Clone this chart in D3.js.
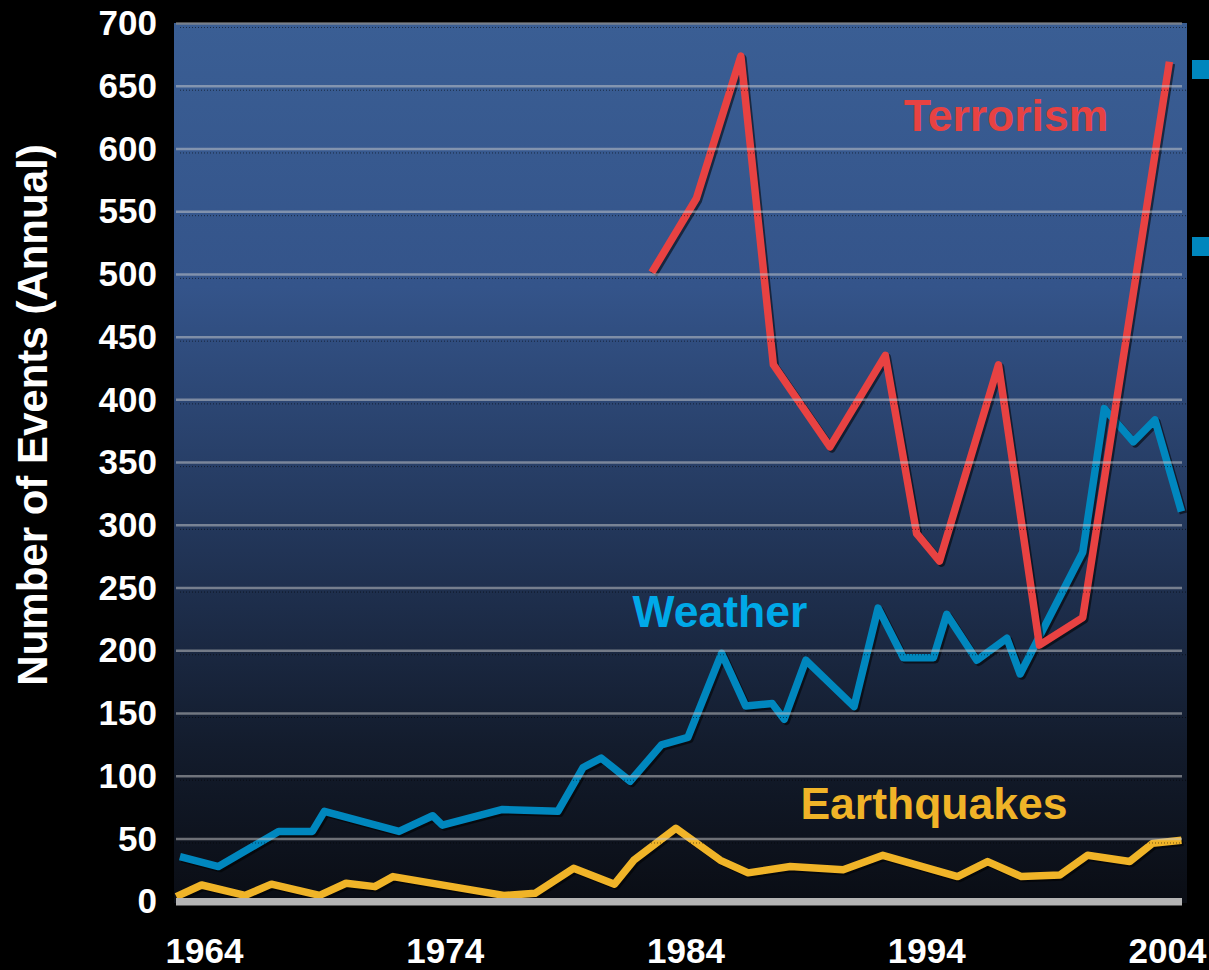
<!DOCTYPE html>
<html>
<head>
<meta charset="utf-8">
<script src="https://cdn.jsdelivr.net/npm/d3@7"></script>
<style>
  html, body { margin: 0; padding: 0; background: #000; }
  svg { display: block; }
  text { font-family: "Liberation Sans", Arial, sans-serif; font-weight: bold; }
</style>
</head>
<body>
<div id="chart"></div>
<script>
// Annual event counts, positioned by (fractional) year
const weatherYears  = [1963.0, 1964.6, 1967.1, 1968.5, 1969.0, 1972.1, 1973.5, 1973.9, 1976.4, 1978.7,
                       1979.75, 1980.5, 1981.7, 1983.0, 1984.1, 1985.5, 1986.5, 1987.6, 1988.1, 1989.0,
                       1991.0, 1992.0, 1993.05, 1994.3, 1994.85, 1996.1, 1997.35, 1997.9, 2000.5, 2001.4,
                       2002.6, 2003.5, 2004.6];
const weatherValues = [36, 28, 56, 56, 72, 56, 68.5, 61, 73.5, 72,
                       107, 114.5, 96, 125, 131, 198, 156, 158, 145.5, 192.5,
                       155.5, 234, 194.5, 194.5, 229, 192.5, 210, 181.5, 278.5, 393,
                       366.5, 384, 311];

const terrorYears   = [1982.6, 1984.45, 1986.3, 1987.65, 1990.0, 1992.3, 1993.6, 1994.55, 1997.0, 1998.7, 2000.5, 2004.1];
const terrorValues  = [501.5, 560.5, 674, 428, 362.5, 435.5, 293.5, 271.5, 428, 204.5, 226.5, 669.5];

const quakeYears    = [1962.85, 1963.9, 1965.7, 1966.8, 1968.8, 1969.9, 1971.1, 1971.85, 1976.45, 1977.75,
                       1979.35, 1981.05, 1981.85, 1983.6, 1985.45, 1986.6, 1988.35, 1990.55, 1992.2, 1995.3,
                       1996.55, 1997.95, 1999.55, 2000.7, 2002.45, 2003.4, 2004.6];
const quakeValues   = [4, 13.3, 5, 14, 5, 14.7, 12, 20, 5, 6.7,
                       26.6, 14, 33, 58.5, 33, 23, 28, 25.5, 37, 20,
                       32, 20, 21.3, 37, 32, 46.5, 49];

const yTicks = [0, 50, 100, 150, 200, 250, 300, 350, 400, 450, 500, 550, 600, 650, 700];
const xTicks = [1964, 1974, 1984, 1994, 2004];

const W = 1209, H = 970;
const plot = { left: 174, right: 1187, top: 23, bottom: 903 };

const x = d3.scaleLinear().domain([1964, 2004]).range([204, 1167]);
const y = d3.scaleLinear().domain([0, 700]).range([901.7, 23.5]);

const svg = d3.select("#chart").append("svg").attr("width", W).attr("height", H);

// Background gradient of the plotting area
const defs = svg.append("defs");
const grad = defs.append("linearGradient").attr("id", "bg").attr("x1", 0).attr("y1", 0).attr("x2", 0).attr("y2", 1);
[[0, "#3a5e94"], [0.3, "#34548a"], [0.6, "#213456"], [0.82, "#131c2d"], [1, "#0a0d14"]]
  .forEach(([o, c]) => grad.append("stop").attr("offset", o).attr("stop-color", c));

svg.append("rect")
  .attr("x", plot.left).attr("y", plot.top)
  .attr("width", plot.right - plot.left).attr("height", plot.bottom - plot.top)
  .attr("fill", "url(#bg)");

// Series lines with a soft dark shadow
const series = [
  { years: quakeYears,   values: quakeValues,   color: "#f0b428" },
  { years: weatherYears, values: weatherValues, color: "#0087be" },
  { years: terrorYears,  values: terrorValues,  color: "#e84242" }
];
const line = d3.line().x(d => x(d[0])).y(d => y(d[1]));

series.forEach(s => {
  const pts = s.years.map((yr, i) => [yr, s.values[i]]);
  svg.append("path").datum(pts)
    .attr("d", line).attr("fill", "none")
    .attr("stroke", "rgba(0,0,0,0.55)").attr("stroke-width", 7.5)
    .attr("stroke-linejoin", "round")
    .attr("transform", "translate(2,2)");
  svg.append("path").datum(pts)
    .attr("d", line).attr("fill", "none")
    .attr("stroke", s.color).attr("stroke-width", 7.5)
    .attr("stroke-linejoin", "round");
});

// Horizontal gridlines, drawn translucent over the lines
const grid = svg.append("g");
yTicks.filter(v => v > 0).forEach(v => {
  grid.append("line")
    .attr("x1", 176).attr("x2", 1182)
    .attr("y1", y(v)).attr("y2", y(v))
    .attr("stroke", v === 700 ? "rgba(140,140,140,0.75)" : "rgba(205,205,205,0.5)")
    .attr("stroke-width", 2.5);
  grid.append("line")
    .attr("x1", 180).attr("x2", 1186)
    .attr("y1", y(v) + 4).attr("y2", y(v) + 4)
    .attr("stroke", "rgba(0,0,0,0.55)")
    .attr("stroke-width", 1)
    .attr("stroke-dasharray", "1,2");
});

// Baseline bar at zero
svg.append("line")
  .attr("x1", 176).attr("x2", 1182)
  .attr("y1", y(0)).attr("y2", y(0))
  .attr("stroke", "#b4b4b4").attr("stroke-width", 7.5);

// Axes
const yAxis = svg.append("g")
  .attr("transform", `translate(${plot.left},0)`)
  .call(d3.axisLeft(y).tickValues(yTicks).tickSize(0).tickPadding(17).tickFormat(d3.format("d")));
yAxis.select(".domain").remove();
yAxis.selectAll("text")
  .attr("fill", "#fff").style("font-size", "35px")
  .style("font-family", "'Liberation Sans', Arial, sans-serif").style("font-weight", "bold");

const xAxis = svg.append("g")
  .attr("transform", `translate(0,${y(0)})`)
  .call(d3.axisBottom(x).tickValues(xTicks).tickSize(0).tickPadding(36.5).tickFormat(d3.format("d")));
xAxis.select(".domain").remove();
xAxis.selectAll("text")
  .attr("fill", "#fff").style("font-size", "35px")
  .style("font-family", "'Liberation Sans', Arial, sans-serif").style("font-weight", "bold");

// Axis title
svg.append("text")
  .attr("transform", "translate(47,415) rotate(-90)")
  .attr("text-anchor", "middle")
  .attr("fill", "#fff")
  .style("font-size", "42px")
  .text("Number of Events (Annual)");

// Series labels
const labels = [
  { text: "Terrorism",   x: 1006, y: 131, color: "#e84242" },
  { text: "Weather",     x: 720,  y: 627, color: "#00a9e8" },
  { text: "Earthquakes", x: 934,  y: 819, color: "#f0b428" }
];
labels.forEach(l => {
  svg.append("text")
    .attr("x", l.x).attr("y", l.y)
    .attr("text-anchor", "middle")
    .attr("fill", l.color)
    .style("font-size", "44.5px")
    .text(l.text);
});

// Bullet markers at the right edge
[60, 237].forEach(top => {
  svg.append("rect")
    .attr("x", 1192).attr("y", top)
    .attr("width", 19).attr("height", 19)
    .attr("fill", "#0086bd");
});
</script>
</body>
</html>
